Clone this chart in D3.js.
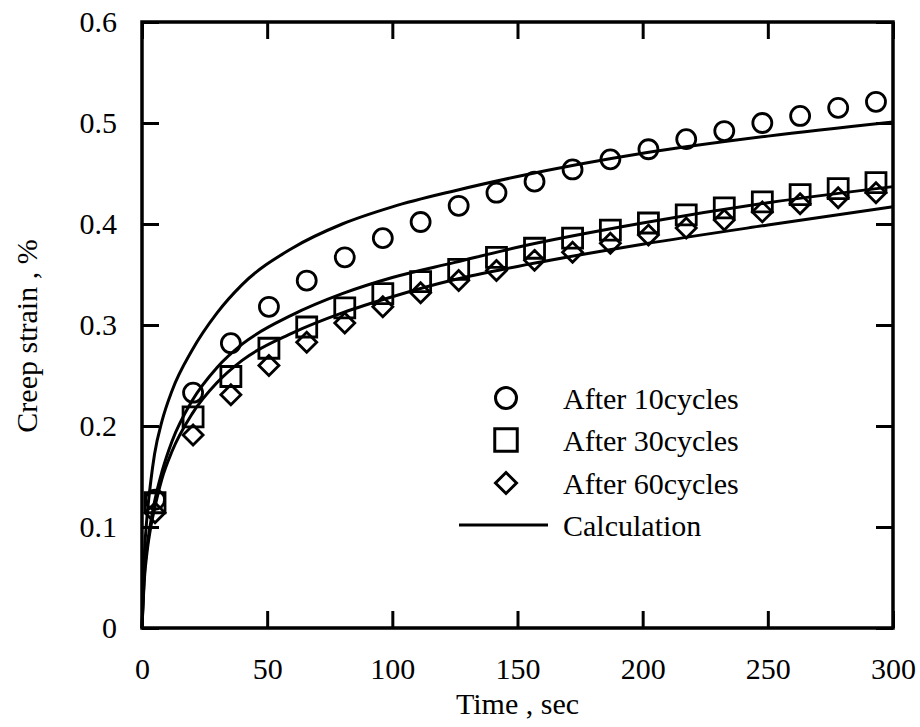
<!DOCTYPE html>
<html>
<head>
<meta charset="utf-8">
<script src="https://cdn.jsdelivr.net/npm/d3@7"></script>
<style>
    body { margin: 0; background: #fff; }
    text { font-family: "Liberation Serif", "Times New Roman", serif; fill: #000; }
</style>
</head>
<body>
<div id="chart"></div>
<script>
// measured times of the creep tests (sec)
const testTime = [5.2, 20.4, 35.5, 50.7, 65.8, 81.0, 96.2, 111.3, 126.5, 141.6,
    156.8, 172.0, 187.1, 202.3, 217.4, 232.6, 247.8, 262.9, 278.1, 293.2];

// measured creep strain (%)
const after10 = [0.127, 0.233, 0.282, 0.318, 0.344, 0.367, 0.386, 0.402, 0.418, 0.431,
    0.442, 0.454, 0.464, 0.474, 0.484, 0.492, 0.500, 0.507, 0.515, 0.521];
const after30 = [0.124, 0.209, 0.249, 0.277, 0.298, 0.317, 0.331, 0.343, 0.355, 0.367,
    0.376, 0.386, 0.394, 0.401, 0.409, 0.416, 0.422, 0.429, 0.435, 0.441];
const after60 = [0.114, 0.191, 0.231, 0.260, 0.283, 0.302, 0.318, 0.332, 0.344, 0.354,
    0.364, 0.372, 0.381, 0.389, 0.396, 0.404, 0.412, 0.420, 0.426, 0.431];

// calculated curves
const calcTime = [0, 1, 2, 3.5, 5, 8, 12, 20, 30, 40, 60, 80, 100, 125, 150, 200, 250, 300];
const calc10 = [0, 0.075, 0.110, 0.145, 0.172, 0.205, 0.235, 0.275, 0.312, 0.340, 0.376,
    0.400, 0.417, 0.433, 0.447, 0.470, 0.487, 0.501];
const calc30 = [0, 0.055, 0.080, 0.105, 0.125, 0.155, 0.185, 0.225, 0.258, 0.281, 0.310,
    0.331, 0.347, 0.362, 0.377, 0.401, 0.421, 0.437];
const calc60 = [0, 0.050, 0.075, 0.100, 0.118, 0.148, 0.175, 0.212, 0.243, 0.265, 0.292,
    0.312, 0.328, 0.345, 0.358, 0.380, 0.399, 0.417];

const xTicks = [0, 50, 100, 150, 200, 250, 300];
const yTicks = [0, 0.1, 0.2, 0.3, 0.4, 0.5, 0.6];
const legendLabels = ["After 10cycles", "After 30cycles", "After 60cycles", "Calculation"];

const margin = { top: 22, right: 27, bottom: 99, left: 142 };
const width = 920 - margin.left - margin.right;
const height = 727 - margin.top - margin.bottom;

const svg = d3.select("#chart")
    .append("svg")
    .attr("width", 920)
    .attr("height", 727)
    .append("g")
    .attr("transform", "translate(" + margin.left + "," + margin.top + ")");

// scales
const x = d3.scaleLinear().domain([0, 300]).range([0, width]);
const y = d3.scaleLinear().domain([0, 0.6]).range([height, 0]);

// axes, ticks point inward on all four sides
const tickLen = 17;
svg.append("g")
    .attr("transform", "translate(0," + height + ")")
    .call(d3.axisBottom(x).tickValues(xTicks).tickSizeInner(-tickLen).tickSizeOuter(0).tickPadding(30))
    .call(g => g.select(".domain").remove());
svg.append("g")
    .call(d3.axisTop(x).tickValues(xTicks).tickSizeInner(-tickLen).tickSizeOuter(0).tickFormat(""))
    .call(g => g.select(".domain").remove());
svg.append("g")
    .call(d3.axisLeft(y).tickValues(yTicks).tickSizeInner(-tickLen).tickSizeOuter(0)
        .tickPadding(25).tickFormat(d => d === 0 ? "0" : d3.format(".1f")(d)))
    .call(g => g.select(".domain").remove());
svg.append("g")
    .attr("transform", "translate(" + width + ",0)")
    .call(d3.axisRight(y).tickValues(yTicks).tickSizeInner(-tickLen).tickSizeOuter(0).tickFormat(""))
    .call(g => g.select(".domain").remove());

svg.selectAll(".tick line").attr("stroke", "#000").attr("stroke-width", 3);
svg.selectAll(".tick text")
    .style("font-family", "'Liberation Serif', 'Times New Roman', serif")
    .style("font-size", "30px")
    .attr("fill", "#000");

// frame
svg.append("rect")
    .attr("width", width)
    .attr("height", height)
    .attr("fill", "none")
    .attr("stroke", "#000")
    .attr("stroke-width", 3.5);

// axis labels
svg.append("text")
    .attr("text-anchor", "middle")
    .style("font-size", "30px")
    .attr("x", width / 2)
    .attr("y", height + 86)
    .text("Time , sec");

svg.append("text")
    .attr("text-anchor", "middle")
    .style("font-size", "30px")
    .attr("transform", "rotate(-90)")
    .attr("x", -314)
    .attr("y", -margin.left + 37)
    .text("Creep strain , %");

// calculation lines
const line = d3.line()
    .x(d => x(d[0]))
    .y(d => y(d[1]))
    .curve(d3.curveMonotoneX);

[calc10, calc30, calc60].forEach(vals => {
    svg.append("path")
        .datum(calcTime.map((t, i) => [t, vals[i]]))
        .attr("fill", "none")
        .attr("stroke", "#000")
        .attr("stroke-width", 3)
        .attr("d", line);
});

// marker shapes
const circlePath = r => d3.symbol(d3.symbolCircle, Math.PI * r * r)();
const squarePath = s => "M" + (-s / 2) + "," + (-s / 2) + "h" + s + "v" + s + "h" + (-s) + "Z";
const diamondPath = h => "M0," + (-h) + "L" + h + ",0L0," + h + "L" + (-h) + ",0Z";

const series = [
    { vals: after10, d: circlePath(9.5) },
    { vals: after30, d: squarePath(20) },
    { vals: after60, d: diamondPath(10) }
];

series.forEach(s => {
    svg.append("g")
        .selectAll("path")
        .data(testTime.map((t, i) => [t, s.vals[i]]))
        .join("path")
        .attr("d", s.d)
        .attr("transform", d => "translate(" + x(d[0]) + "," + y(d[1]) + ")")
        .attr("fill", "none")
        .attr("stroke", "#000")
        .attr("stroke-width", 2.8);
});

// legend
const legendShapes = [circlePath(10.5), squarePath(22.5), diamondPath(10.5)];
const legend = d3.select("svg").append("g");
const rowY = [398, 440, 483, 525];
legendLabels.forEach((label, i) => {
    if (i < 3) {
        legend.append("path")
            .attr("d", legendShapes[i])
            .attr("transform", "translate(506," + rowY[i] + ")")
            .attr("fill", "none")
            .attr("stroke", "#000")
            .attr("stroke-width", 3);
    } else {
        legend.append("line")
            .attr("x1", 459).attr("x2", 548)
            .attr("y1", rowY[i]).attr("y2", rowY[i])
            .attr("stroke", "#000")
            .attr("stroke-width", 3);
    }
    legend.append("text")
        .attr("x", 563)
        .attr("y", rowY[i])
        .attr("dy", "0.35em")
        .style("font-size", "30px")
        .text(label);
});
</script>
</body>
</html>
